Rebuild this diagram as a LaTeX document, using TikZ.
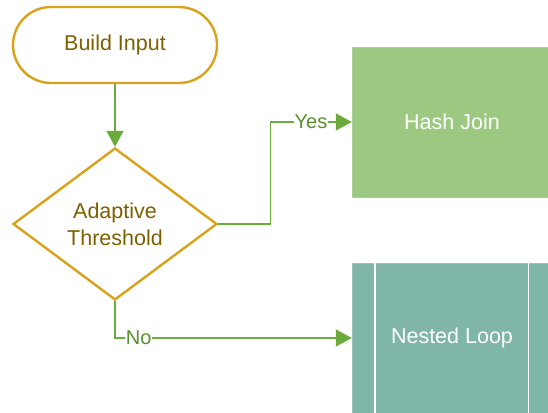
\documentclass[tikz,border=0pt]{standalone}
\usepackage{fontspec}
\setmainfont{Liberation Sans}
\usepackage{tikz}
\usetikzlibrary{shapes.geometric,arrows.meta,positioning,calc}
\definecolor{jgold}{HTML}{D9A21B}
\definecolor{jbrown}{HTML}{7F6000}
\definecolor{jgreen}{HTML}{6AAB3C}
\definecolor{jlabel}{HTML}{5A9029}
\definecolor{jhash}{HTML}{9DC882}
\definecolor{jloop}{HTML}{7FB6A8}

\begin{document}
\begin{tikzpicture}[x=1pt, y=-1pt,
    terminal/.style={rectangle, rounded corners=38pt, draw=jgold, line width=2.4pt, fill=white, minimum width=204pt, minimum height=76pt, text=jbrown, font=\fontsize{21.5}{27}\selectfont},
    decision/.style={diamond, draw=jgold, line width=2.4pt, fill=white, inner sep=0pt, minimum width=204pt, minimum height=152pt, text=jbrown, align=center, font=\fontsize{21.5}{27}\selectfont},
    process/.style={rectangle, fill=jhash, draw=jhash!85!white, minimum width=200pt, minimum height=150pt, text=white, font=\fontsize{21.5}{27}\selectfont},
    predef/.style={process, fill=jloop, draw=jloop!80!white},
    flow/.style={draw=jgreen, line width=1.4pt, -{Triangle[length=16pt, width=17pt]}},
    answer/.style={fill=white, inner sep=1pt, text=jlabel, font=\fontsize{20}{24}\selectfont}
  ]
  \useasboundingbox (0,0) rectangle (548,412);

  % Shapes
  \node[terminal] (build) at (115,45) {Build Input};
  \node[decision] (decide) at (115,224) {Adaptive\\Threshold};
  \node[process] (hash) at (452,122) {Hash Join};
  \node[predef] (nested) at (452,338) {Nested Loop};
  \draw[white, line width=1.4pt] ([xshift=23pt]nested.north west) -- ([xshift=23pt]nested.south west);
  \draw[white, line width=1.4pt] ([xshift=-24pt]nested.north east) -- ([xshift=-24pt]nested.south east);

  % Connectors
  \draw[flow] (build) -- (decide);
  \draw[flow] (decide.east) -- ++(52,0) |- node[pos=0.75, answer] {Yes} (hash.west);
  \draw[flow] (decide.south) |- node[pos=0.55, answer] {No} (nested.west);
\end{tikzpicture}
\end{document}
